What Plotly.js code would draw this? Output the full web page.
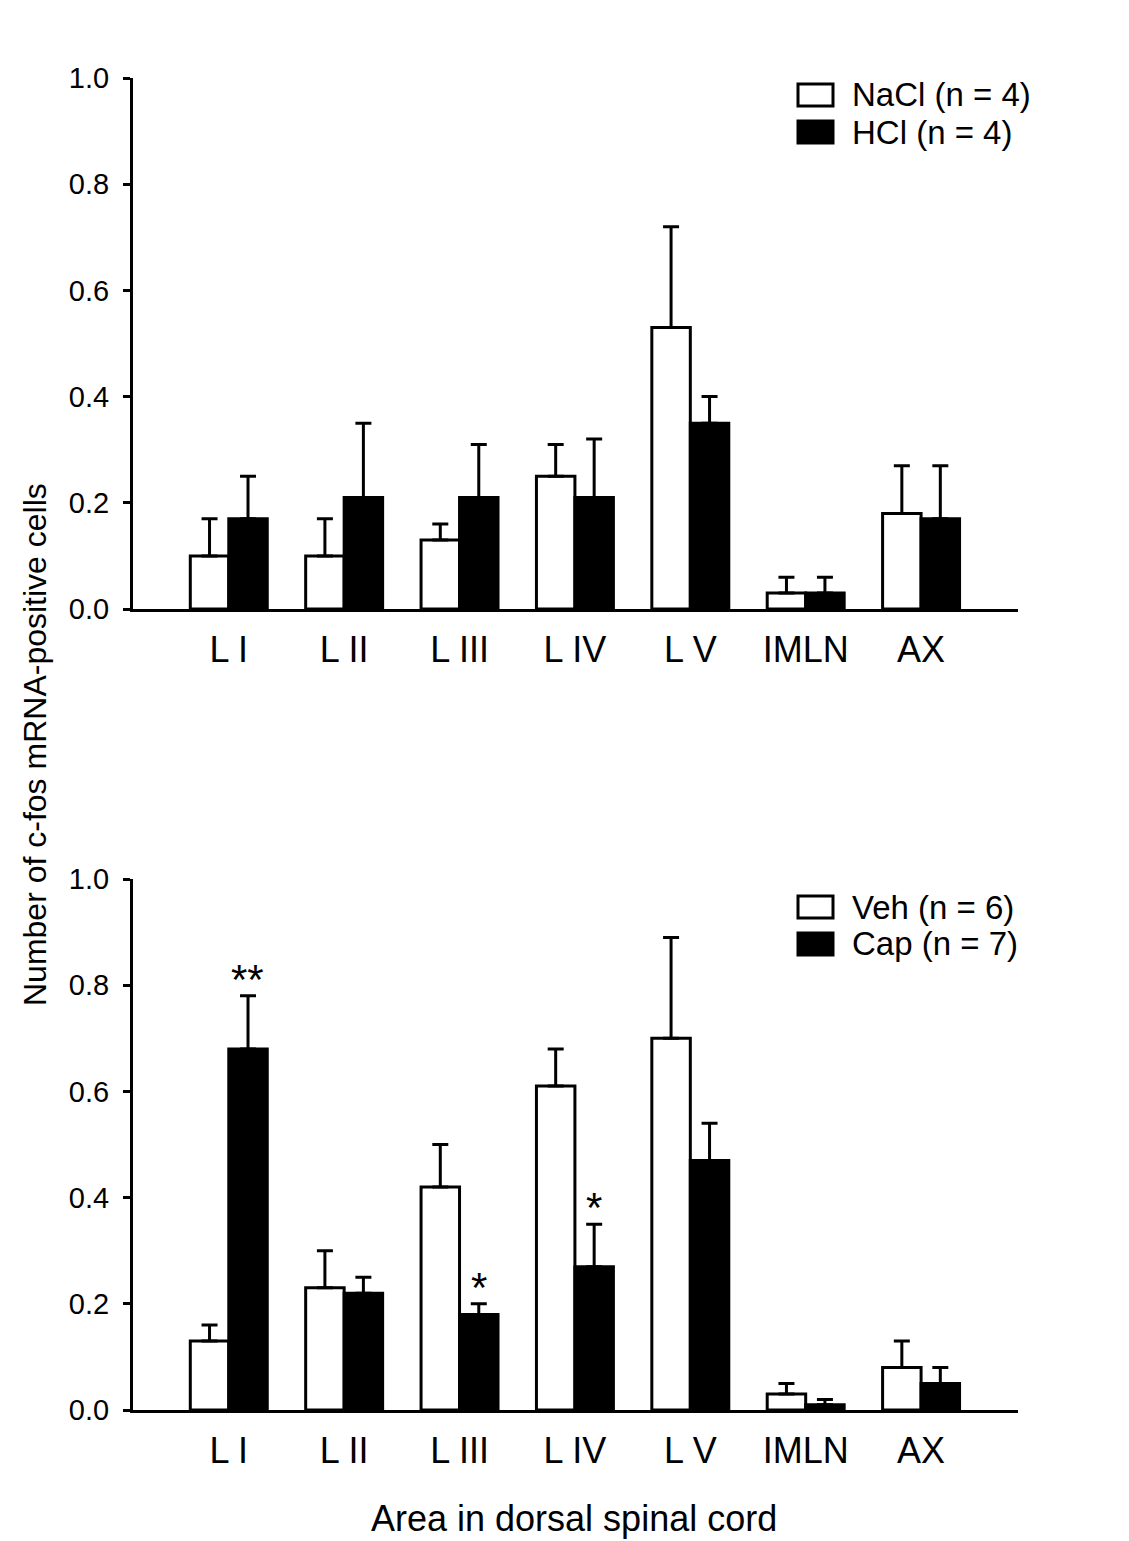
<!DOCTYPE html>
<html>
<head>
<meta charset="utf-8">
<script src="https://cdn.plot.ly/plotly-3.0.1.min.js"></script>
<style>
  html, body { margin: 0; padding: 0; background: #fff; }
  #chart { width: 1129px; height: 1541px; }
</style>
</head>
<body>
<div id="chart"></div>
<script>
// categories (areas in dorsal spinal cord)
const areas = ["L I", "L II", "L III", "L IV", "L V", "IMLN", "AX"];

// top panel: NaCl vs HCl
const naclMean = [0.10, 0.10, 0.13, 0.25, 0.53, 0.03, 0.18];
const naclSem  = [0.07, 0.07, 0.03, 0.06, 0.19, 0.03, 0.09];
const hclMean  = [0.17, 0.21, 0.21, 0.21, 0.35, 0.03, 0.17];
const hclSem   = [0.08, 0.14, 0.10, 0.11, 0.05, 0.03, 0.10];

// bottom panel: vehicle vs capsaicin
const vehMean = [0.13, 0.23, 0.42, 0.61, 0.70, 0.03, 0.08];
const vehSem  = [0.03, 0.07, 0.08, 0.07, 0.19, 0.02, 0.05];
const capMean = [0.68, 0.22, 0.18, 0.27, 0.47, 0.01, 0.05];
const capSem  = [0.10, 0.03, 0.02, 0.08, 0.07, 0.01, 0.03];
const capSig  = ["**", "", "*", "*", "", "", ""];

const topNames = ["NaCl (n = 4)", "HCl (n = 4)"];
const botNames = ["Veh (n = 6)", "Cap (n = 7)"];
const yTicks = [0, 0.2, 0.4, 0.6, 0.8, 1.0];

const W = 1129, H = 1541;
const px = (x) => x / W;
const py = (y) => 1 - y / H;
const FONT = "Liberation Sans, Arial, sans-serif";

function barTrace(mean, sem, fill, xa, ya, name) {
  return {
    type: "bar",
    x: areas,
    y: mean,
    name: name,
    xaxis: xa,
    yaxis: ya,
    marker: { color: fill, line: { color: "black", width: 3 } },
    error_y: {
      type: "data",
      symmetric: false,
      array: sem,
      arrayminus: sem.map(() => 0),
      color: "black",
      thickness: 3,
      width: 8,
    },
    showlegend: false,
  };
}

const traces = [
  barTrace(naclMean, naclSem, "white", "x", "y", topNames[0]),
  barTrace(hclMean, hclSem, "black", "x", "y", topNames[1]),
  barTrace(vehMean, vehSem, "white", "x2", "y2", botNames[0]),
  barTrace(capMean, capSem, "black", "x2", "y2", botNames[1]),
];

const xDomain = [px(133), px(1018)];
const xRange = [-0.83, 6.84];

function xAxis(anchor) {
  return {
    domain: xDomain,
    anchor: anchor,
    range: xRange,
    showline: true,
    linecolor: "black",
    linewidth: 3,
    ticks: "",
    ticklabelstandoff: 7,
    showgrid: false,
    zeroline: false,
    tickfont: { family: FONT, size: 36, color: "black" },
    fixedrange: true,
  };
}
function yAxis(anchor, dom) {
  return {
    domain: dom,
    anchor: anchor,
    range: [0, 1],
    tickvals: yTicks,
    ticktext: yTicks.map((v) => v.toFixed(1)),
    ticks: "outside",
    ticklen: 7,
    tickwidth: 3,
    tickcolor: "black",
    ticklabelstandoff: 8,
    showline: true,
    linecolor: "black",
    linewidth: 3,
    showgrid: false,
    zeroline: false,
    tickfont: { family: FONT, size: 29, color: "black" },
    fixedrange: true,
  };
}

// legend drawn as shapes + text, so the swatch size matches
const shapes = [];
const annotations = [];
function legend(names, rowY) {
  names.forEach((nm, i) => {
    const cy = rowY + i * 37;
    shapes.push({
      type: "rect", xref: "paper", yref: "paper",
      x0: px(798), x1: px(833), y0: py(cy - 11), y1: py(cy + 11),
      line: { color: "black", width: 3 },
      fillcolor: i === 0 ? "white" : "black",
    });
    annotations.push({
      xref: "paper", yref: "paper", x: px(850), y: py(cy),
      xanchor: "left", yanchor: "middle", showarrow: false,
      text: nm, font: { family: FONT, size: 33, color: "black" },
    });
  });
}
legend(topNames, 95);
legend(botNames, 907);

// significance marks over the capsaicin bars
capSig.forEach((s, i) => {
  if (!s) return;
  annotations.push({
    xref: "x2", yref: "y2", x: areas[i], xshift: 19,
    y: capMean[i] + capSem[i], yanchor: "bottom", yshift: -9,
    showarrow: false, text: s,
    font: { family: FONT, size: 42, color: "black" },
  });
});

// axis titles shared by both panels
annotations.push({
  xref: "paper", yref: "paper", x: px(35), y: py(745),
  xanchor: "center", yanchor: "middle", textangle: -90, showarrow: false,
  text: "Number of c-fos mRNA-positive cells",
  font: { family: FONT, size: 32, color: "black" },
});
annotations.push({
  xref: "paper", yref: "paper", x: px(574), y: py(1518),
  xanchor: "center", yanchor: "middle", showarrow: false,
  text: "Area in dorsal spinal cord",
  font: { family: FONT, size: 36, color: "black" },
});

const layout = {
  width: W,
  height: H,
  margin: { l: 0, r: 0, t: 0, b: 0 },
  paper_bgcolor: "white",
  plot_bgcolor: "white",
  barmode: "group",
  bargap: 0.333,
  bargroupgap: 0,
  showlegend: false,
  font: { family: FONT, color: "black" },
  xaxis: xAxis("y"),
  yaxis: yAxis("x", [py(609), py(78)]),
  xaxis2: xAxis("y2"),
  yaxis2: yAxis("x2", [py(1410), py(879)]),
  shapes: shapes,
  annotations: annotations,
};

Plotly.newPlot("chart", traces, layout, { staticPlot: true });
</script>
</body>
</html>
